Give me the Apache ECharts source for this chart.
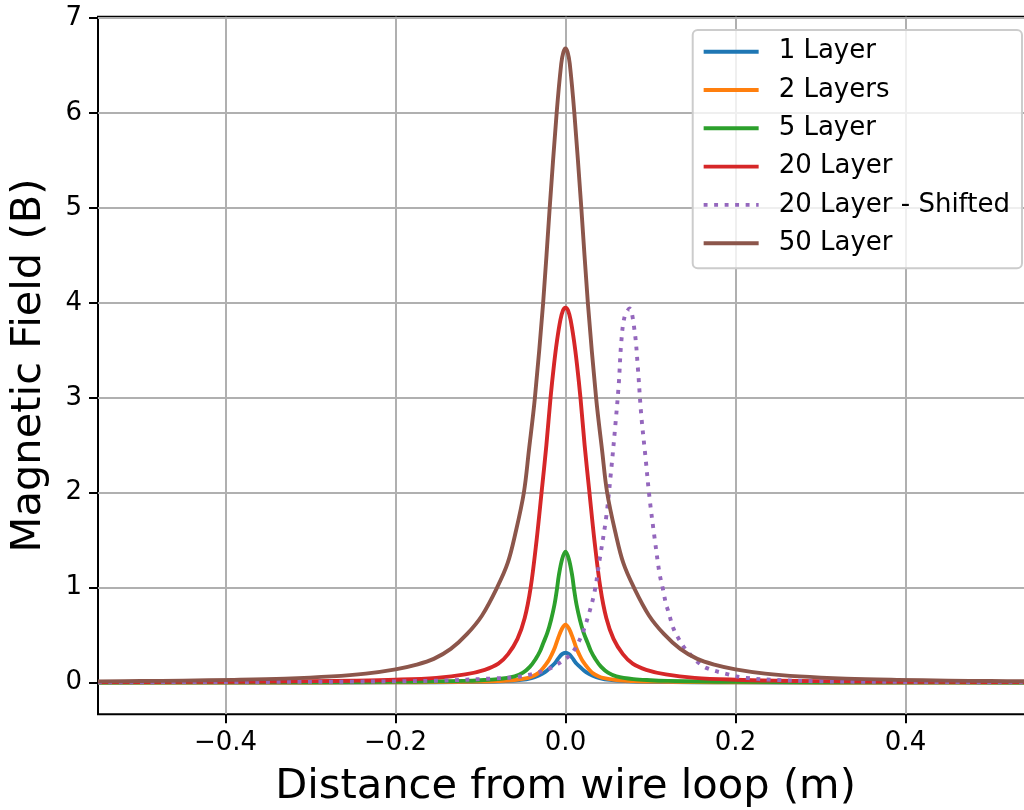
<!DOCTYPE html>
<html>
<head>
<meta charset="utf-8">
<script src="https://cdn.jsdelivr.net/npm/echarts@6/dist/echarts.min.js"></script>
<style>
html,body{margin:0;padding:0;background:#fff;}
#chart{width:1024px;height:810px;}
</style>
</head>
<body>
<div id="chart"></div>
<script>
// ---- data ----
const seriesNames = ['1 Layer', '2 Layers', '5 Layer', '20 Layer', '20 Layer - Shifted', '50 Layer'];
const xTicks = [-0.4, -0.2, 0.0, 0.2, 0.4];
const yTicks = [0, 1, 2, 3, 4, 5, 6, 7];

const blueX = [-0.55,-0.3,-0.2,-0.15,-0.1,-0.07,-0.052,-0.04,-0.032,-0.027,-0.022,-0.0165,-0.012,-0.008,-0.004,0,0.004,0.008,0.012,0.0165,0.022,0.027,0.032,0.04,0.052,0.07,0.1,0.15,0.2,0.3,0.55];
const blueY = [0.0003,0.001,0.002,0.004,0.008,0.016,0.028,0.048,0.072,0.095,0.125,0.17,0.21,0.26,0.30,0.315,0.30,0.26,0.21,0.17,0.125,0.095,0.072,0.048,0.028,0.016,0.008,0.004,0.002,0.001,0.0003];

const orangeX = [-0.55,-0.3,-0.2,-0.15,-0.1,-0.08,-0.06,-0.044,-0.038,-0.032,-0.028,-0.024,-0.02,-0.0165,-0.0125,-0.0086,-0.004,0,0.004,0.0086,0.0125,0.0165,0.02,0.024,0.028,0.032,0.038,0.044,0.06,0.08,0.1,0.15,0.2,0.3,0.55];
const orangeY = [0.0005,0.0015,0.003,0.005,0.011,0.016,0.027,0.05,0.07,0.10,0.135,0.18,0.23,0.29,0.37,0.47,0.57,0.61,0.57,0.47,0.37,0.29,0.23,0.18,0.135,0.10,0.07,0.05,0.027,0.016,0.011,0.005,0.003,0.0015,0.0005];

const greenX = [-0.55,-0.4,-0.3,-0.2,-0.16,-0.12,-0.1,-0.08,-0.06,-0.05,-0.042,-0.035,-0.03,-0.026,-0.0215,-0.017,-0.013,-0.0098,-0.008,-0.004,0,0.004,0.008,0.0098,0.013,0.017,0.0215,0.026,0.03,0.035,0.042,0.05,0.06,0.08,0.1,0.12,0.16,0.2,0.3,0.4,0.55];
const greenY = [0.0015,0.0025,0.004,0.008,0.011,0.018,0.025,0.037,0.066,0.105,0.165,0.25,0.33,0.42,0.52,0.66,0.82,1.0,1.12,1.3,1.38,1.3,1.12,1.0,0.82,0.66,0.52,0.42,0.33,0.25,0.165,0.105,0.066,0.037,0.025,0.018,0.011,0.008,0.004,0.0025,0.0015];

const redX = [-0.55,-0.5,-0.4,-0.3,-0.25,-0.2,-0.152,-0.118,-0.095,-0.079,-0.0675,-0.0565,-0.048,-0.041,-0.034,-0.0282,-0.0225,-0.0176,-0.0135,-0.01,-0.006,-0.003,0,0.003,0.006,0.01,0.0135,0.0176,0.0225,0.0282,0.034,0.041,0.048,0.0565,0.0675,0.079,0.095,0.118,0.152,0.2,0.25,0.3,0.4,0.5,0.55];
const redY = [0.005,0.006,0.009,0.015,0.02,0.03,0.05,0.086,0.135,0.20,0.30,0.46,0.68,1.0,1.5,2.0,2.5,3.0,3.35,3.6,3.82,3.92,3.95,3.92,3.82,3.6,3.35,3.0,2.5,2.0,1.5,1.0,0.68,0.46,0.30,0.20,0.135,0.086,0.05,0.03,0.02,0.015,0.009,0.006,0.005];

const purpleX = [-0.55,-0.45,-0.35,-0.25,-0.152,-0.0816,-0.0588,-0.039,-0.0196,0,0.0098,0.0196,0.0275,0.0341,0.04,0.0479,0.0537,0.0588,0.0627,0.0655,0.0694,0.0753,0.0812,0.0851,0.089,0.0941,0.0988,0.1047,0.1106,0.1145,0.1184,0.1204,0.127,0.1333,0.14,0.1498,0.1557,0.1655,0.189,0.2125,0.248,0.295,0.35,0.45,0.55];
const purpleY = [0.003,0.005,0.007,0.01,0.02,0.045,0.058,0.09,0.144,0.25,0.337,0.513,0.724,0.952,1.286,1.743,2.235,2.727,3.149,3.57,3.85,3.94,3.71,3.32,2.83,2.375,1.95,1.53,1.15,0.99,0.82,0.766,0.57,0.46,0.366,0.267,0.214,0.155,0.092,0.05,0.028,0.014,0.009,0.005,0.003];

const brownX = [-0.55,-0.5,-0.45,-0.39,-0.33,-0.275,-0.235,-0.2,-0.175,-0.155,-0.135,-0.116,-0.098,-0.08,-0.068,-0.059,-0.049,-0.043,-0.036,-0.0263,-0.0186,-0.0104,-0.005,-0.0025,0,0.0025,0.005,0.0104,0.0186,0.0263,0.036,0.043,0.049,0.059,0.068,0.08,0.098,0.116,0.135,0.155,0.175,0.2,0.235,0.275,0.33,0.39,0.45,0.5,0.55];
const brownY = [0.013,0.016,0.021,0.029,0.042,0.065,0.095,0.14,0.19,0.25,0.355,0.51,0.71,1.01,1.26,1.57,2.0,2.45,3.0,4.0,5.0,6.0,6.52,6.64,6.68,6.64,6.52,6.0,5.0,4.0,3.0,2.45,2.0,1.57,1.26,1.01,0.71,0.51,0.355,0.25,0.19,0.14,0.095,0.065,0.042,0.029,0.021,0.016,0.013];

const colors = ['#1f77b4', '#ff7f0e', '#2ca02c', '#d62728', '#9467bd', '#8c564b'];
const xs = [blueX, orangeX, greenX, redX, purpleX, brownX];
const ys = [blueY, orangeY, greenY, redY, purpleY, brownY];

// ---- chart ----
const FONT = 'DejaVu Sans';
const chart = echarts.init(document.getElementById('chart'), null, {renderer: 'canvas'});

function pairs(xa, ya) { return xa.map((x, i) => [x, ya[i]]); }
function fmt(v) {
  const s = Math.abs(v).toFixed(1);
  return v < -1e-9 ? '\u2212' + s : s;
}
const LW = 3.9;
const dotted = [3.9, 6.6];

const series = seriesNames.map((name, i) => ({
  name: name,
  type: 'line',
  data: pairs(xs[i], ys[i]),
  showSymbol: false,
  symbol: 'none',
  smooth: 0.35,
  animation: false,
  clip: true,
  lineStyle: {
    color: colors[i],
    width: LW,
    type: i === 4 ? dotted : 'solid',
    cap: 'butt',
    join: 'round'
  },
  itemStyle: {color: colors[i]}
}));

chart.setOption({
  animation: false,
  backgroundColor: '#ffffff',
  color: colors,
  grid: {
    left: 98, top: 16.7, width: 935, height: 697.6,
    outerBoundsMode: 'none',
    containLabel: false,
    show: true, borderColor: '#000', borderWidth: 2, backgroundColor: 'transparent'
  },
  xAxis: {
    type: 'value',
    min: -0.55, max: 0.55,
    name: 'Distance from wire loop (m)',
    nameLocation: 'middle',
    nameGap: 52,
    nameTextStyle: {fontFamily: FONT, fontSize: 41.6, color: '#000'},
    axisLine: {show: false, onZero: false},
    axisTick: {show: true, inside: false, length: 9, customValues: xTicks, lineStyle: {color: '#000', width: 2}},
    axisLabel: {show: true, customValues: xTicks, formatter: fmt, margin: 16, fontFamily: FONT, fontSize: 26, color: '#000'},
    splitLine: {show: true, lineStyle: {color: '#b0b0b0', width: 2}}
  },
  yAxis: {
    type: 'value',
    min: -0.334, max: 7.014,
    name: 'Magnetic Field (B)',
    nameLocation: 'middle',
    nameGap: 48,
    nameRotate: 90,
    nameTextStyle: {fontFamily: FONT, fontSize: 41.6, color: '#000'},
    axisLine: {show: false, onZero: false},
    axisTick: {show: true, inside: false, length: 9, customValues: yTicks, lineStyle: {color: '#000', width: 2}},
    axisLabel: {show: true, customValues: yTicks, formatter: v => String(Math.round(v)), margin: 16, fontFamily: FONT, fontSize: 26, color: '#000'},
    splitLine: {show: true, lineStyle: {color: '#b0b0b0', width: 2}}
  },
  legend: {
    show: true,
    orient: 'vertical',
    left: 692.7,
    top: 30,
    data: seriesNames,
    itemWidth: 55,
    itemHeight: 26,
    itemGap: 12.3,
    padding: [8.7, 12, 12, 9],
    backgroundColor: 'rgba(255,255,255,0.8)',
    borderColor: '#cccccc',
    borderWidth: 2,
    borderRadius: 5,
    itemStyle: {color: 'transparent', borderWidth: 0, opacity: 0},
    lineStyle: {width: LW},
    textStyle: {fontFamily: FONT, fontSize: 26, color: '#000', lineHeight: 26, padding: [0, 0, 0, 15]},
    selectedMode: false
  },
  series: series
});
</script>
</body>
</html>
